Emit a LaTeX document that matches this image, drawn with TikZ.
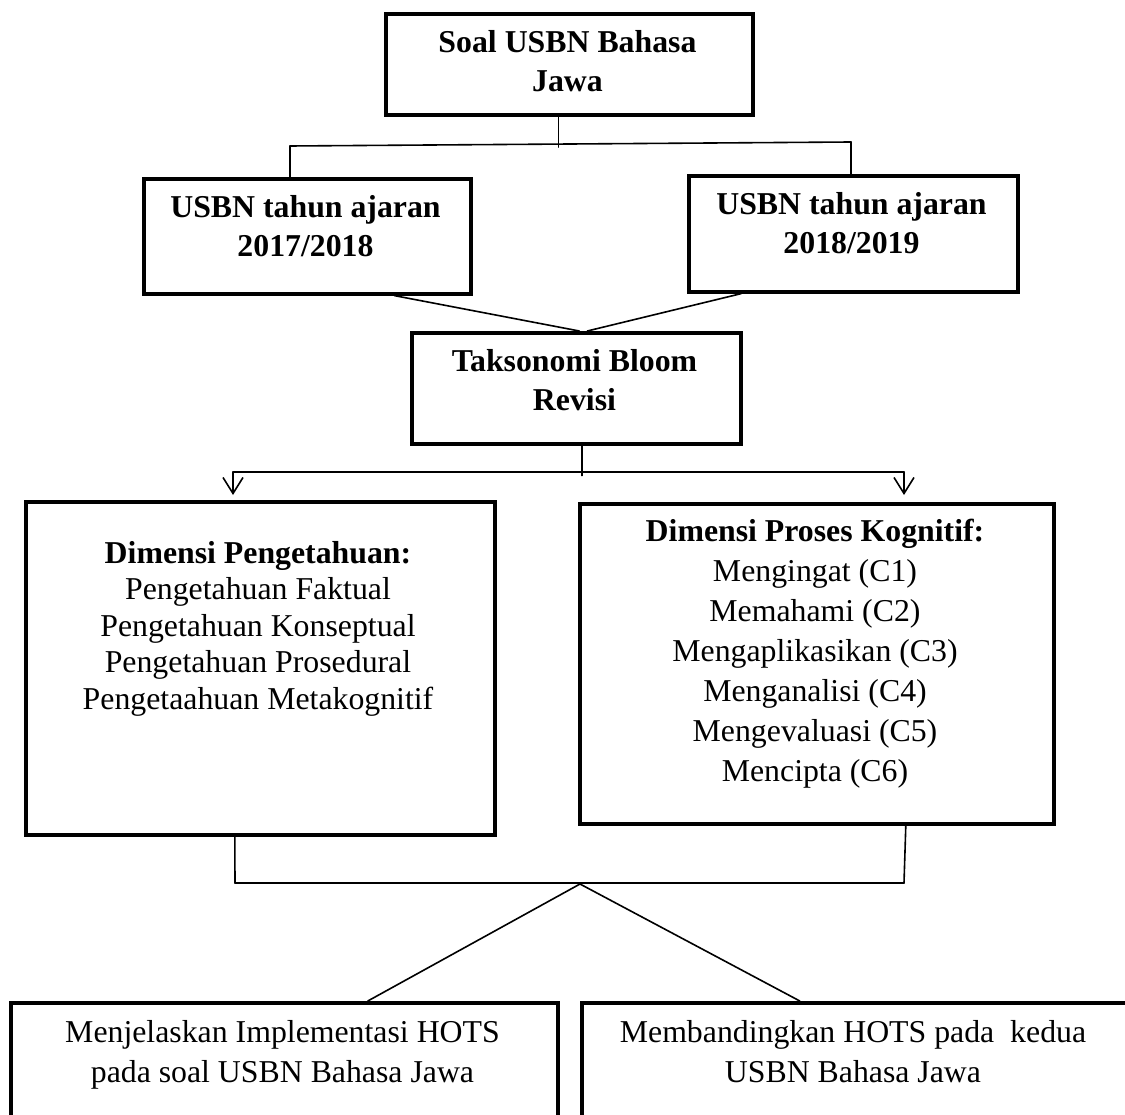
\documentclass[tikz,border=0pt]{standalone}
\usepackage{fontspec}
\setmainfont{Liberation Serif}
\usetikzlibrary{arrows.meta}

\begin{document}
\begin{tikzpicture}[x=1pt, y=-1pt, line cap=round, line join=round, >={Straight Barb[length=16pt, width=20pt]}]

  \tikzset{
    box/.style={draw, line width=3.6pt, inner sep=0pt, anchor=north west, line cap=butt, line join=miter},
    txt/.style={align=center, anchor=base, inner sep=0pt, font=\fontsize{31.8}{40}\selectfont},
    head/.style={txt, font=\fontsize{31.8}{39}\selectfont\bfseries},
    link/.style={line width=1.6pt}
  }

  % Page (white background, reference proportions)
  \useasboundingbox[fill=white] (0,0) rectangle (1125,1115);

  % Boxes
  \node[box, minimum width=367pt, minimum height=101pt] (soal)  at (384,12)  {};
  \node[box, minimum width=327pt, minimum height=115pt] (y17)   at (142,177) {};
  \node[box, minimum width=329pt, minimum height=116pt] (y18)   at (687,174) {};
  \node[box, minimum width=329pt, minimum height=111pt] (bloom) at (410,331) {};
  \node[box, minimum width=469pt, minimum height=333pt] (dimP)  at (24,500)  {};
  \node[box, minimum width=474pt, minimum height=320pt] (dimK)  at (578,502) {};
  \node[box, minimum width=547pt, minimum height=160pt] (hotsA) at (9,1001)  {};
  \node[box, minimum width=548pt, minimum height=160pt] (hotsB) at (580,1001) {};

  % Texts (anchored on the baseline of their last line)
  \node[head] (soal-t)  at (567.5,92)  {Soal USBN Bahasa\\Jawa};
  \node[head] (y17-t)   at (305.5,257) {USBN tahun ajaran\\2017/2018};
  \node[head] (y18-t)   at (851.5,254) {USBN tahun ajaran\\2018/2019};
  \node[head] (bloom-t) at (574.5,410) {Taksonomi Bloom\\Revisi};

  \node[txt, font=\fontsize{31.8}{36.5}\selectfont] (dimP-t) at (258,709)
    {\textbf{Dimensi Pengetahuan:}\\Pengetahuan Faktual\\Pengetahuan Konseptual\\
     Pengetahuan Prosedural\\Pengetaahuan Metakognitif};
  \node[txt] (dimK-t) at (815,781)
    {\textbf{Dimensi Proses Kognitif:}\\Mengingat (C1)\\Memahami (C2)\\
     Mengaplikasikan (C3)\\Menganalisi (C4)\\Mengevaluasi (C5)\\Mencipta (C6)};

  \node[txt] (hotsA-t) at (282.5,1082) {Menjelaskan Implementasi HOTS\\pada soal USBN Bahasa Jawa};
  \node[txt] (hotsB-t) at (853,1082)   {Membandingkan HOTS pada~ kedua\\USBN Bahasa Jawa};

  % Fork below the first box
  \coordinate (forkL) at (290,146);
  \coordinate (forkR) at (851,142);
  \draw[link] ([xshift=-11pt]soal.south) -- ++(0,30.5);
  \draw[link] (forkL) -- (forkR);
  \draw[link] (forkL) -- (forkL |- y17.north);
  \draw[link] (forkR) -- (forkR |- y18.north);

  % Both years into the taxonomy
  \draw[link] ([xshift=87pt]y17.south)   -- ([xshift=3pt]bloom.north);
  \draw[link] ([xshift=-112pt]y18.south) -- ([xshift=11pt]bloom.north);

  % Split into the two dimensions
  \coordinate (splitL) at (233,472);
  \coordinate (splitR) at (904,472);
  \coordinate (tipL)   at (233,495);
  \coordinate (tipR)   at (904,495);
  \draw[link] ([xshift=5.5pt]bloom.south) -- ++(0,30);
  \draw[link] (splitL) -- (splitR);
  \draw[link, ->] (splitL) -- (tipL);
  \draw[link, ->] (splitR) -- (tipR);

  % Merge and branch to the goals
  \coordinate (mergeL) at (235,883);
  \coordinate (mergeR) at (904,883);
  \coordinate (apex)   at (580,884);
  \draw[link] ([xshift=-25.5pt]dimP.south) -- (mergeL);
  \draw[link] ([xshift=89pt]dimK.south)    -- (mergeR);
  \draw[link] (mergeL) -- (mergeR);
  \draw[link] (apex) -- ([xshift=83.5pt]hotsA.north);
  \draw[link] (apex) -- ([xshift=-56pt]hotsB.north);

\end{tikzpicture}
\end{document}
